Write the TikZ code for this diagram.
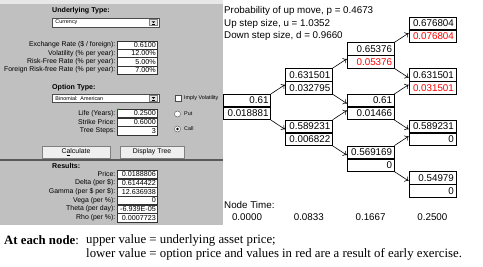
\documentclass[tikz,border=0pt]{standalone}
\usepackage{fontspec}
\setmainfont{Liberation Serif}
\setsansfont{Liberation Sans}
\usetikzlibrary{arrows.meta}
\definecolor{panelgray}{HTML}{C0C0C0}
\definecolor{btngray}{HTML}{EFEFEF}
\definecolor{optred}{HTML}{FF0000}

\begin{document}
\begin{tikzpicture}[x=1pt,y=-1pt]
    % Node styles
    \tikzset{
      small/.style={font=\sffamily\fontsize{6.9}{7}\selectfont},
      tiny/.style={font=\sffamily\fontsize{5.4}{6}\selectfont},
      field label/.style={small,anchor=east,inner sep=0pt},
      section head/.style={font=\sffamily\bfseries\fontsize{7.1}{8}\selectfont,anchor=west,inner sep=0pt},
      field box/.style={draw=black!80,fill=white,line width=0.5pt,minimum width=40pt,minimum height=8.3pt,inner sep=0pt,text width=37.6pt,align=right,font=\sffamily\fontsize{7.2}{7}\selectfont},
      drop box/.style={draw=black!70,fill=white,line width=0.5pt,minimum height=8.6pt,inner xsep=3.5pt,inner ysep=0pt,text width=100pt,align=left,tiny},
      push button/.style={draw=black!50,fill=btngray,line width=0.5pt,minimum height=12pt,inner sep=0pt,small},
      option label/.style={tiny,anchor=west,inner sep=0pt},
      cell/.style={draw,line width=0.6pt,minimum height=12.4pt,text width=43pt,inner xsep=2pt,inner ysep=0pt,align=right,font=\sffamily\fontsize{9.8}{10}\selectfont},
      upper cell/.style={cell,anchor=south},
      lower cell/.style={cell,anchor=north},
      early cell/.style={lower cell,text=optred},
      tree text/.style={font=\sffamily\fontsize{9.8}{10}\selectfont,inner sep=0pt},
      arr/.style={-{To[length=3.5pt,width=6pt]},line width=0.6pt},
      note/.style={font=\fontsize{12.8}{14}\selectfont,anchor=west,inner sep=0pt}
    }
    \useasboundingbox (0,0) rectangle (483,267);

    % --- Input panel ---
    \fill[black!9] (0,0) rectangle (223,4);
    \fill[panelgray] (0,4) rectangle (223,225);

    % Underlying type
    \node[section head] (undtype) at (52,11) {Underlying Type:};
    \node[drop box] (undsel) at (105.5,22.5) {Currency};
    \draw[black!50,fill=black!10,line width=0.4pt] (149.5,19.5) rectangle (157.5,25.5);
    \fill (151.6,21.3) -- (155.4,21.3) -- (153.5,23.2) -- cycle;
    \draw[line width=0.5pt] (151.6,24.2) -- (155.4,24.2);

    % Market data
    \node[field box] (exrate) at (137,45.1) {0.6100};
    \node[field box] (vol) at (137,53.4) {12.00\%};
    \node[field box] (rf) at (137,61.7) {5.00\%};
    \node[field box] (rff) at (137,70) {7.00\%};
    \node[field label] (exratelbl) at (115.5,45.1) {Exchange Rate (\$ / foreign):};
    \node[field label] (vollbl) at (115.5,53.4) {Volatility (\% per year):};
    \node[field label] (rflbl) at (115.5,61.7) {Risk-Free Rate (\% per year):};
    \node[field label] (rfflbl) at (115.5,70) {Foreign Risk-free Rate (\% per year):};

    % Option type
    \node[section head] (opttype) at (52,88) {Option Type:};
    \node[drop box] (optsel) at (105.5,98.3) {Binomial: American};
    \draw[black!50,fill=black!10,line width=0.4pt] (149.5,95.3) rectangle (157.5,101.3);
    \fill (151.6,97.1) -- (155.4,97.1) -- (153.5,99) -- cycle;
    \draw[line width=0.5pt] (151.6,100) -- (155.4,100);
    \draw[black!70,fill=white,line width=0.5pt] (175,95.5) rectangle (181,101.5);
    \node[option label] (implylbl) at (184,98.5) {Imply Volatility};

    % Contract data
    \node[field box] (life) at (137,113.3) {0.2500};
    \node[field box] (strike) at (137,122) {0.6000};
    \node[field box] (steps) at (137,130.7) {3};
    \fill[green!55!black] (life.north west) -- ++(2.2,0) -- ++(-2.2,2.2) -- cycle;
    \node[field label] (lifelbl) at (115.5,113.3) {Life (Years):};
    \node[field label] (strikelbl) at (115.5,122) {Strike Price:};
    \node[field label] (stepslbl) at (115.5,130.7) {Tree Steps:};

    % Put / call choice
    \draw[black!60,fill=white,line width=0.5pt] (177.5,114) circle (3);
    \draw[black!60,fill=white,line width=0.5pt] (177.5,129) circle (3);
    \fill (177.5,129) circle (1.3);
    \node[option label] (putlbl) at (184,114) {Put};
    \node[option label] (calllbl) at (184,129) {Call};

    % Buttons
    \node[push button,minimum width=68pt] (calcbtn) at (76,152) {C\underline{a}lculate};
    \node[push button,minimum width=64pt] (treebtn) at (152,152) {Display Tree};
    \draw[line width=1.8pt,black!65] (0,160) -- (223,160);

    % --- Results ---
    \node[section head] (results) at (52,166) {Results:};
    \node[field box] (price) at (137,174.3) {0.0188806};
    \node[field box] (delta) at (137,183) {0.6144422};
    \node[field box] (gamma) at (137,191.7) {12.636938};
    \node[field box] (vega) at (137,200.3) {0};
    \node[field box] (theta) at (137,209) {-6.939E-05};
    \node[field box] (rho) at (137,217.7) {0.0007723};
    \node[field label] (pricelbl) at (115.5,174.3) {Price:};
    \node[field label] (deltalbl) at (115.5,183) {Delta (per \$):};
    \node[field label] (gammalbl) at (115.5,191.7) {Gamma (per \$ per \$):};
    \node[field label] (vegalbl) at (115.5,200.3) {Vega (per \%):};
    \node[field label] (thetalbl) at (115.5,209) {Theta (per day):};
    \node[field label] (rholbl) at (115.5,217.7) {Rho (per \%):};

    % --- Tree parameters ---
    \node[tree text,anchor=west] (prob) at (224,11) {Probability of up move, p = 0.4673};
    \node[tree text,anchor=west] (upstep) at (224,23.5) {Up step size, u = 1.0352};
    \node[tree text,anchor=west] (downstep) at (224,36) {Down step size, d = 0.9660};

    % --- Tree nodes (upper = asset price, lower = option value) ---
    \node[upper cell] (n00a) at (247,107) {0.61};
    \node[lower cell] (n00b) at (247,107) {0.018881};

    \node[upper cell] (n11a) at (308.8,81.2) {0.631501};
    \node[lower cell] (n11b) at (308.8,81.2) {0.032795};
    \node[upper cell] (n10a) at (308.8,132.8) {0.589231};
    \node[lower cell] (n10b) at (308.8,132.8) {0.006822};

    \node[upper cell] (n22a) at (370.6,55.4) {0.65376};
    \node[early cell] (n22b) at (370.6,55.4) {0.05376};
    \node[upper cell] (n21a) at (370.6,107) {0.61};
    \node[lower cell] (n21b) at (370.6,107) {0.01466};
    \node[upper cell] (n20a) at (370.6,158.6) {0.569169};
    \node[lower cell] (n20b) at (370.6,158.6) {0};

    \node[upper cell] (n33a) at (432.4,29.6) {0.676804};
    \node[early cell] (n33b) at (432.4,29.6) {0.076804};
    \node[upper cell] (n32a) at (432.4,81.2) {0.631501};
    \node[early cell] (n32b) at (432.4,81.2) {0.031501};
    \node[upper cell] (n31a) at (432.4,132.8) {0.589231};
    \node[lower cell] (n31b) at (432.4,132.8) {0};
    \node[upper cell] (n30a) at (432.4,184.4) {0.54979};
    \node[lower cell] (n30b) at (432.4,184.4) {0};

    % --- Up moves ---
    \draw[arr] (n00a.north east) -- ([yshift=3pt]n11b.west);
    \draw[arr] (n11a.north east) -- ([yshift=3pt]n22b.west);
    \draw[arr] (n10a.north east) -- ([yshift=3pt]n21b.west);
    \draw[arr] (n22a.north east) -- ([yshift=3pt]n33b.west);
    \draw[arr] (n21a.north east) -- ([yshift=3pt]n32b.west);
    \draw[arr] (n20a.north east) -- ([yshift=3pt]n31b.west);

    % --- Down moves ---
    \draw[arr] (n00b.south east) -- ([yshift=-3pt]n10a.west);
    \draw[arr] (n11b.south east) -- ([yshift=-3pt]n21a.west);
    \draw[arr] (n10b.south east) -- ([yshift=-3pt]n20a.west);
    \draw[arr] (n22b.south east) -- ([yshift=-3pt]n32a.west);
    \draw[arr] (n21b.south east) -- ([yshift=-3pt]n31a.west);
    \draw[arr] (n20b.south east) -- ([yshift=-3pt]n30a.west);

    % --- Time axis ---
    \node[tree text,anchor=west] (nodetime) at (224,205) {Node Time:};
    \node[tree text] (t0) at (247,217.5) {0.0000};
    \node[tree text] (t1) at (308.8,217.5) {0.0833};
    \node[tree text] (t2) at (370.6,217.5) {0.1667};
    \node[tree text] (t3) at (432.4,217.5) {0.2500};

    % --- Caption ---
    \node[note] (notehead) at (4,240) {\textbf{At each node}:};
    \node[note] (noteup) at (86,240) {upper value = underlying asset price;};
    \node[note] (notelow) at (86,254) {lower value = option price and values in red are a result of early exercise.};
\end{tikzpicture}
\end{document}
